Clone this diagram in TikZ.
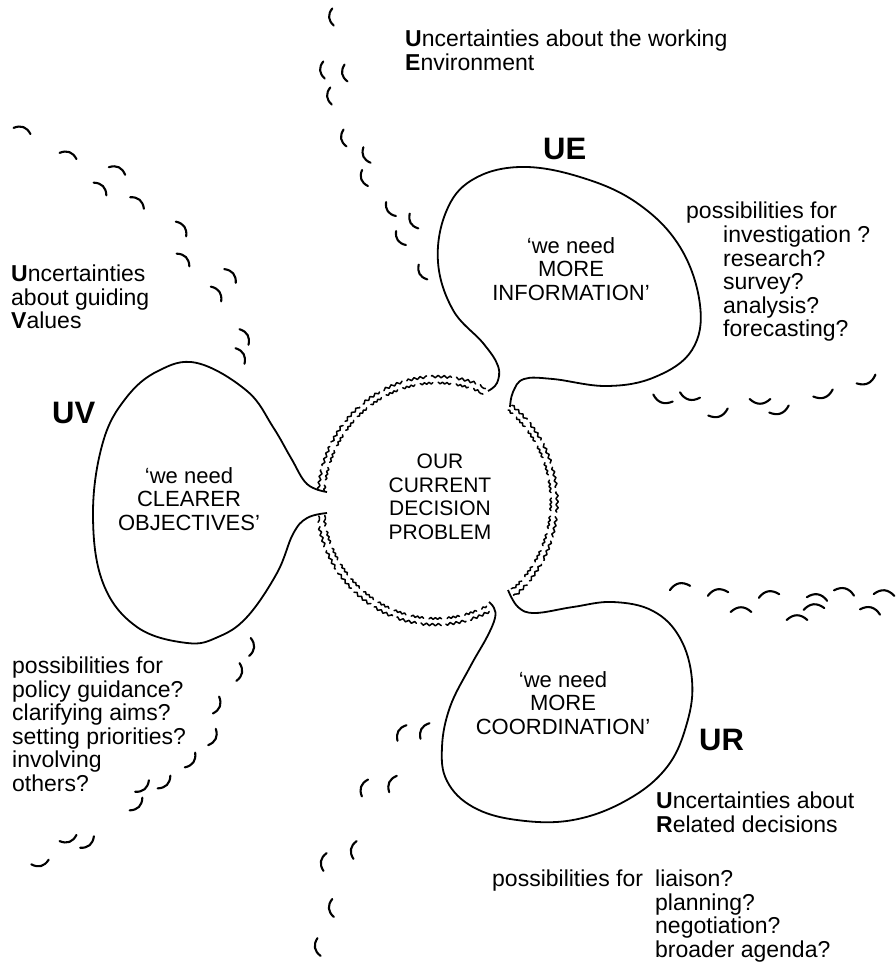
\documentclass[tikz,border=0pt]{standalone}
\usepackage{fontspec}
\setmainfont{Liberation Sans}
\usetikzlibrary{decorations.pathmorphing}

\tikzset{
  blob/.style     = {line width=1.8pt, line join=round},
  nickline/.style = {line width=2.1pt, line cap=round},
  fuzzline/.style = {line width=1.5pt, line cap=round, line join=round, decorate,
                     decoration={snake, amplitude=1.2pt, segment length=6pt}},
  note/.style     = {inner sep=0pt, align=left, anchor=north west,
                     font=\fontsize{23}{23.5}\selectfont},
  says/.style     = {inner sep=0pt, align=center, anchor=north,
                     font=\fontsize{22}{23.5}\selectfont},
  badge/.style    = {inner sep=0pt, anchor=base west,
                     font=\fontsize{31}{31}\selectfont\bfseries},
  nick/.pic       = {\draw[nickline] (-9,0) .. controls (-3,-5.5) and (3,-5.5) .. (9,0);}
}

\begin{document}
\begin{tikzpicture}[x=1pt, y=-1pt]

  \useasboundingbox (0,0) rectangle (895,964);

  % The decision problem in the middle, with its fuzzy rim
  %   drawn as arcs between the stems of the balloons

  \coordinate (hub) at (437,501);
  \node[says, anchor=center, font=\fontsize{21}{23.5}\selectfont] (prob)
    at (440,497) {OUR\\CURRENT\\DECISION\\PROBLEM};

  \foreach \a/\b in {309/410, 64/173, 185/294} {
    \draw[fuzzline, dash pattern=on 26pt off 6pt]
      (hub) ++(\a:119 and 123) arc[start angle=\a, end angle=\b, x radius=119, y radius=123];
    \draw[fuzzline, dash pattern=on 16pt off 7pt, dash phase=9pt,
          decoration={segment length=4.5pt, amplitude=0.9pt}]
      (hub) ++(\a:113 and 117) arc[start angle=\a, end angle=\b, x radius=113, y radius=117];
  }

  % The three balloons, each one springing from the rim

  \draw[blob] plot[smooth, tension=0.65] coordinates {
    (488,391) (497,383) (498,366) (483,343) (453,310) (438,262) (446,212)
    (472,180) (520,167) (580,177) (637,203) (680,247) (700,305) (692,350)
    (655,377) (607,386) (553,379) (524,379) (513,392) (510,407)};

  \draw[blob] plot[smooth, tension=0.65] coordinates {
    (327,492) (307,484) (291,458) (273,427) (247,391) (197,363) (158,371)
    (126,398) (103,442) (93,513) (103,583) (137,627) (187,643) (218,637)
    (247,617) (277,573) (293,534) (307,518) (327,513)};

  \draw[blob] plot[smooth, tension=0.65] coordinates {
    (489,602) (494,608) (495,618) (487,637) (470,667) (450,707) (442,747)
    (447,781) (473,807) (517,820) (573,820) (627,800) (667,767) (687,723)
    (692,680) (680,638) (653,611) (613,602) (573,607) (535,613) (518,607)
    (508,590)};

  % What each balloon says

  \node[says] (infosay)  at (571,237) {‘we need\\MORE\\INFORMATION’};
  \node[says] (valsay)   at (189,467) {‘we need\\CLEARER\\OBJECTIVES’};
  \node[says] (coordsay) at (563,671) {‘we need\\MORE\\COORDINATION’};

  \node[badge] (ue) at (543,159) {UE};
  \node[badge] (uv) at (52,423)  {UV};
  \node[badge] (ur) at (699,750) {UR};

  % The notes round the edge

  \node[note] (envnote) at (405,30)
    {\textbf{U}ncertainties about the working\\\textbf{E}nvironment};
  \node[note] (infolead) at (686,202) {possibilities for};
  \node[note] (infolist) at (723,226)
    {investigation ?\\research?\\survey?\\analysis?\\forecasting?};

  \node[note] (valnote) at (11,265)
    {\textbf{U}ncertainties\\about guiding\\\textbf{V}alues};
  \node[note] (valdo) at (12,657)
    {possibilities for\\policy guidance?\\clarifying aims?\\setting priorities?\\involving\\others?};

  \node[note] (relnote) at (656,792)
    {\textbf{U}ncertainties about\\\textbf{R}elated decisions};
  \node[note] (rellead) at (492,870) {possibilities for};
  \node[note] (rellist) at (655,870)
    {liaison?\\planning?\\negotiation?\\broader agenda?};

  % Trails of nicks that split the field into its three areas
  %   x / y / turn of each nick

  \foreach \x/\y/\a in {333/17/95, 324/70/95, 346/73/100, 331/96/95,
      345/138/100, 367/155/115, 365/178/110, 391/209/125, 414/221/120,
      401/238/125, 423/272/120}
    \pic[rotate=\a, scale=0.95] at (\x,\y) {nick};

  \foreach \x/\y/\a in {22/131/-20, 68/156/-20, 117/171/-25, 100/189/-45,
      137/203/-40, 181/229/-55, 183/260/-45, 230/276/-50, 216/294/-55,
      244/337/-60, 240/356/-60}
    \pic[rotate=\a] at (\x,\y) {nick};

  \foreach \x/\y/\a in {250/647/-95, 238/672/-100, 216/705/-110,
      212/737/-115, 190/760/-125, 164/782/-135, 142/786/-140,
      136/804/-135, 87/842/-140, 68/838/-160, 40/862/-165}
    \pic[rotate=\a] at (\x,\y) {nick};

  \foreach \x/\y/\a in {402/733/60, 425/731/60, 365/788/70, 393/784/65,
      325/862/80, 355/850/80, 333/908/95, 319/947/100}
    \pic[rotate=\a] at (\x,\y) {nick};

  \foreach \x/\y/\a in {663/398/160, 690/395/165, 718/412/200,
      760/399/180, 779/409/200, 823/393/200, 866/379/205}
    \pic[rotate=\a, scale=1.15] at (\x,\y) {nick};

  \foreach \x/\y/\a in {680/588/12, 718/594/10, 741/612/0, 769/596/10,
      797/620/0, 817/599/-10, 814/609/5, 844/593/-15, 870/612/-15,
      884/595/-5}
    \pic[rotate=\a, scale=1.15] at (\x,\y) {nick};

\end{tikzpicture}
\end{document}
